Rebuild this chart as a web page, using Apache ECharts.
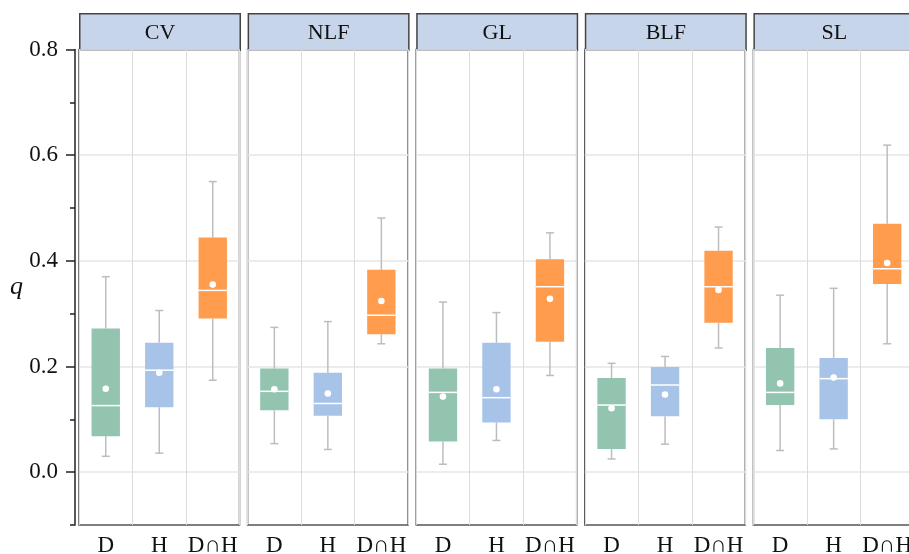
<!DOCTYPE html>
<html>
<head>
<meta charset="utf-8">
<script src="https://cdn.jsdelivr.net/npm/echarts@6/dist/echarts.min.js"></script>
<style>
  html, body { margin: 0; padding: 0; background: #fff; }
  #chart { width: 909px; height: 554px; }
</style>
</head>
<body>
<div id="chart"></div>
<script>
// facets and groups
const panels = ['CV', 'NLF', 'GL', 'BLF', 'SL']
const groups = ['D', 'H', 'D∩H']
const groupColors = ['#93c4b0', '#a7c3e8', '#ff9c4d']
const yTicks = [0, 0.2, 0.4, 0.6, 0.8]

// box statistics per panel: [D, H, D∩H]
const whiskerLow = [
  [0.030, 0.036, 0.174],
  [0.054, 0.043, 0.243],
  [0.015, 0.060, 0.183],
  [0.025, 0.053, 0.235],
  [0.041, 0.044, 0.243]
]
const q1 = [
  [0.068, 0.123, 0.291],
  [0.117, 0.107, 0.261],
  [0.058, 0.094, 0.247],
  [0.044, 0.106, 0.283],
  [0.127, 0.100, 0.356]
]
const median = [
  [0.126, 0.193, 0.344],
  [0.153, 0.130, 0.297],
  [0.151, 0.141, 0.351],
  [0.127, 0.165, 0.351],
  [0.151, 0.177, 0.385]
]
const q3 = [
  [0.272, 0.245, 0.444],
  [0.196, 0.188, 0.383],
  [0.196, 0.245, 0.403],
  [0.178, 0.199, 0.419],
  [0.235, 0.216, 0.470]
]
const whiskerHigh = [
  [0.370, 0.306, 0.550],
  [0.274, 0.285, 0.481],
  [0.322, 0.302, 0.453],
  [0.206, 0.219, 0.464],
  [0.335, 0.348, 0.619]
]
const means = [
  [0.158, 0.188, 0.355],
  [0.157, 0.149, 0.324],
  [0.143, 0.157, 0.328],
  [0.121, 0.147, 0.345],
  [0.168, 0.179, 0.396]
]

// layout
const PANEL_LEFT = 79
const PANEL_STEP = 168.6
const PANEL_W = 160.5
const PANEL_TOP = 49.5
const PANEL_BOTTOM = 29
const STRIP_H = 36.5
const SERIF = 'Liberation Serif'

const chart = echarts.init(document.getElementById('chart'))

const grids = []
const xAxes = []
const yAxes = []
const series = []
const graphics = []

panels.forEach((name, i) => {
  const left = PANEL_LEFT + i * PANEL_STEP
  grids.push({
    left: left,
    top: PANEL_TOP,
    width: PANEL_W,
    bottom: PANEL_BOTTOM,
    containLabel: false,
    outerBoundsMode: 'none',
    show: true,
    borderColor: '#555',
    borderWidth: 1.5,
    backgroundColor: '#fff'
  })
  xAxes.push({
    type: 'category',
    gridIndex: i,
    data: groups,
    boundaryGap: true,
    axisLine: { show: false },
    axisTick: { show: false },
    axisLabel: { interval: 0, fontFamily: SERIF, fontSize: 23, color: '#111', margin: 9 },
    splitLine: { show: true, interval: 0, lineStyle: { color: '#dcdcdc', width: 1 } }
  })
  yAxes.push({
    type: 'value',
    gridIndex: i,
    min: -0.1,
    max: 0.8,
    interval: 0.1,
    position: 'left',
    offset: i === 0 ? 4 : 0,
    name: i === 0 ? 'q' : '',
    nameLocation: 'middle',
    nameGap: 52,
    nameRotate: 0,
    nameTextStyle: { fontFamily: SERIF, fontStyle: 'italic', fontSize: 26, color: '#111' },
    axisLine: { show: i === 0, onZero: false, lineStyle: { color: '#222', width: 1.5 } },
    axisTick: { show: i === 0, customValues: yTicks, length: 9, lineStyle: { color: '#222', width: 1.5 } },
    axisLabel: {
      show: i === 0,
      customValues: yTicks,
      margin: 17,
      fontFamily: SERIF,
      fontSize: 23,
      color: '#111',
      formatter: (v) => v.toFixed(1)
    },
    splitLine: { show: true, lineStyle: { color: '#e6e6e6', width: 1.5 } }
  })

  series.push({
    type: 'custom',
    xAxisIndex: i,
    yAxisIndex: i,
    z: 3,
    encode: { x: 0, y: [1, 2, 3, 4, 5, 6] },
    data: groups.map((g, j) => [j, whiskerLow[i][j], q1[i][j], median[i][j], q3[i][j], whiskerHigh[i][j], means[i][j]]),
    renderItem: (params, api) => {
      const j = api.value(0)
      const pLow = api.coord([j, api.value(1)])
      const pQ1 = api.coord([j, api.value(2)])
      const pMed = api.coord([j, api.value(3)])
      const pQ3 = api.coord([j, api.value(4)])
      const pHigh = api.coord([j, api.value(5)])
      const pMean = api.coord([j, api.value(6)])
      const cx = pMed[0]
      const w = api.size([1, 0])[0] * 0.53
      const cap = 4
      const whisker = { stroke: '#bdbdbd', lineWidth: 1.5 }
      return {
        type: 'group',
        children: [
          { type: 'line', shape: { x1: cx, y1: pLow[1], x2: cx, y2: pQ1[1] }, style: whisker },
          { type: 'line', shape: { x1: cx - cap, y1: pLow[1], x2: cx + cap, y2: pLow[1] }, style: whisker },
          { type: 'line', shape: { x1: cx, y1: pQ3[1], x2: cx, y2: pHigh[1] }, style: whisker },
          { type: 'line', shape: { x1: cx - cap, y1: pHigh[1], x2: cx + cap, y2: pHigh[1] }, style: whisker },
          {
            type: 'rect',
            shape: { x: cx - w / 2, y: pQ3[1], width: w, height: pQ1[1] - pQ3[1] },
            style: { fill: groupColors[j] }
          },
          {
            type: 'line',
            shape: { x1: cx - w / 2, y1: pMed[1], x2: cx + w / 2, y2: pMed[1] },
            style: { stroke: '#fff', lineWidth: 1.5 }
          },
          { type: 'circle', shape: { cx: cx, cy: pMean[1], r: 3.3 }, style: { fill: '#fff' } }
        ]
      }
    }
  })

  // facet strip
  graphics.push({
    type: 'group',
    left: left,
    top: PANEL_TOP - STRIP_H,
    children: [
      {
        type: 'rect',
        shape: { x: 0, y: 0, width: PANEL_W, height: STRIP_H },
        style: { fill: '#c6d5ea', stroke: '#444', lineWidth: 1.5 }
      },
      {
        type: 'text',
        x: PANEL_W / 2,
        y: STRIP_H / 2 + 1,
        style: {
          text: name,
          fontFamily: SERIF,
          fontSize: 22,
          fill: '#111',
          align: 'center',
          verticalAlign: 'middle'
        }
      }
    ]
  })
})

// minor ticks on the shared y axis
yAxes.push({
  type: 'value',
  gridIndex: 0,
  min: -0.1,
  max: 0.8,
  interval: 0.1,
  position: 'left',
  offset: 4,
  axisLine: { show: false },
  axisTick: { show: true, length: 5, lineStyle: { color: '#222', width: 1.5 } },
  axisLabel: { show: false },
  splitLine: { show: false }
})

const option = {
  backgroundColor: '#fff',
  animation: false,
  grid: grids,
  xAxis: xAxes,
  yAxis: yAxes,
  series: series,
  graphic: graphics
}

chart.setOption(option)

window.addEventListener('resize', () => chart.resize())
</script>
</body>
</html>
